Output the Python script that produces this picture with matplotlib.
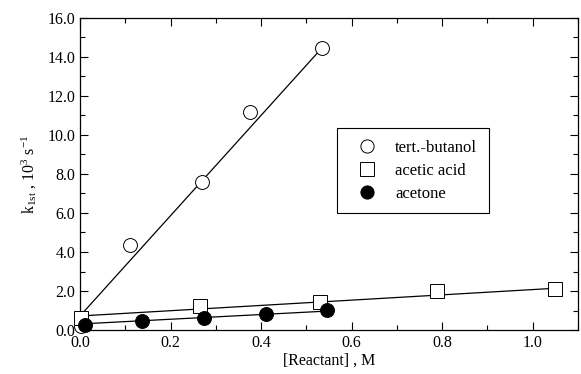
import matplotlib
matplotlib.use("Agg")
import matplotlib.pyplot as plt
from matplotlib.ticker import MultipleLocator, FormatStrFormatter

plt.rcParams['font.family'] = ['Liberation Serif', 'DejaVu Serif']
plt.rcParams['mathtext.fontset'] = 'custom'
plt.rcParams['mathtext.rm'] = 'Liberation Serif'
plt.rcParams['mathtext.it'] = 'Liberation Serif'

# data
butanol_x = [0.003, 0.11, 0.269, 0.375, 0.534]
butanol_y = [0.2, 4.35, 7.6, 11.2, 14.45]
butanol_fit_x = [0.0, 0.534]
butanol_fit_y = [0.72, 14.45]

acetic_x = [0.003, 0.265, 0.53, 0.788, 1.049]
acetic_y = [0.6, 1.25, 1.42, 2.0, 2.1]
acetic_fit_x = [0.0, 1.049]
acetic_fit_y = [0.72, 2.14]

acetone_x = [0.012, 0.137, 0.275, 0.41, 0.545]
acetone_y = [0.26, 0.46, 0.62, 0.82, 1.02]
acetone_fit_x = [0.0, 0.545]
acetone_fit_y = [0.31, 0.97]

labels = ['tert.-butanol', 'acetic acid', 'acetone']

fig = plt.figure(figsize=(5.81, 3.74), dpi=100)
ax = fig.add_axes([0.1377, 0.1176, 0.8571, 0.8344])

lw = 0.9
ax.plot(butanol_fit_x, butanol_fit_y, color='black', lw=lw, zorder=2)
ax.plot(acetic_fit_x, acetic_fit_y, color='black', lw=lw, zorder=2)
ax.plot(acetone_fit_x, acetone_fit_y, color='black', lw=lw, zorder=2)

ax.plot(butanol_x, butanol_y, 'o', ms=10, mfc='white', mec='black', mew=0.7,
        ls='none', label=labels[0], zorder=3, clip_on=False)
ax.plot(acetic_x, acetic_y, 's', ms=10, mfc='white', mec='black', mew=0.7,
        ls='none', label=labels[1], zorder=3, clip_on=False)
ax.plot(acetone_x, acetone_y, 'o', ms=10, mfc='black', mec='black', mew=0.7,
        ls='none', label=labels[2], zorder=4, clip_on=False)

ax.set_xlim(0, 1.1)
ax.set_ylim(0, 16)
ax.xaxis.set_major_locator(MultipleLocator(0.2))
ax.xaxis.set_minor_locator(MultipleLocator(0.1))
ax.yaxis.set_major_locator(MultipleLocator(2))
ax.yaxis.set_minor_locator(MultipleLocator(1))
ax.xaxis.set_major_formatter(FormatStrFormatter('%.1f'))
ax.yaxis.set_major_formatter(FormatStrFormatter('%.1f'))

ax.tick_params(which='both', direction='in', top=True, right=True, labelsize=11.5,
               width=0.8)
ax.tick_params(which='major', length=6)
ax.tick_params(which='minor', length=3.5)
for s in ax.spines.values():
    s.set_linewidth(0.9)

ax.set_xlabel('[Reactant] , M', fontsize=11.5, labelpad=1)
ax.set_ylabel(r'k$_{\mathrm{1st}}$ , 10$^{3}$ s$^{-1}$', fontsize=11.5, labelpad=6)

leg = ax.legend(loc='upper left', bbox_to_anchor=(0.516, 0.647), fontsize=12,
                frameon=True, fancybox=False, edgecolor='black', framealpha=1,
                handletextpad=0.58, borderpad=0.7, labelspacing=0.42,
                handlelength=2.2, borderaxespad=0, markerscale=0.95)
leg.get_frame().set_linewidth(0.8)

fig.savefig('out.png', dpi=100)
